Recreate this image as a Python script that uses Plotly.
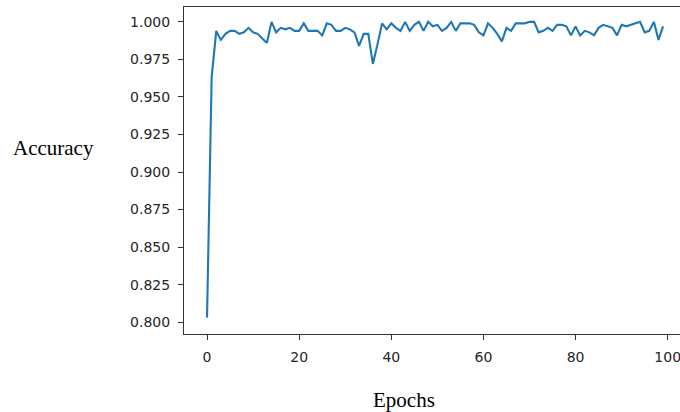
import plotly.graph_objects as go

# Training accuracy per epoch
epochs = list(range(100))
accuracy = [
    0.803, 0.963, 0.994, 0.988, 0.992, 0.994, 0.994, 0.992, 0.993, 0.996,
    0.993, 0.992, 0.989, 0.986, 1.000, 0.993, 0.996, 0.995, 0.996, 0.994,
    0.994, 0.999, 0.994, 0.994, 0.994, 0.991, 0.999, 0.998, 0.994, 0.994,
    0.996, 0.995, 0.993, 0.984, 0.992, 0.992, 0.972, 0.985, 0.999, 0.995,
    0.999, 0.996, 0.994, 1.000, 0.994, 0.998, 1.000, 0.994, 1.000, 0.997,
    0.998, 0.994, 0.996, 1.000, 0.994, 0.999, 0.999, 0.999, 0.998, 0.993,
    0.991, 0.999, 0.996, 0.992, 0.987, 0.996, 0.994, 0.999, 0.999, 0.999,
    1.000, 1.000, 0.993, 0.994, 0.996, 0.994, 0.998, 0.998, 0.997, 0.991,
    0.997, 0.991, 0.994, 0.993, 0.991, 0.996, 0.998, 0.997, 0.996, 0.991,
    0.998, 0.997, 0.998, 0.999, 1.000, 0.993, 0.994, 1.000, 0.988, 0.997,
]

y_ticks = [0.800, 0.825, 0.850, 0.875, 0.900, 0.925, 0.950, 0.975, 1.000]
x_ticks = [0, 20, 40, 60, 80, 100]

W, H = 680, 412
L, R, T, B = 184, 0, 7, 78
pw, ph = W - L - R, H - T - B


def px_to_paper(x, y):
    return (x - L) / pw, 1 - (y - T) / ph


fig = go.Figure()
fig.add_trace(go.Scatter(
    x=epochs, y=accuracy, mode="lines",
    line=dict(color="#1f77b4", width=2.1),
    hoverinfo="skip",
))

tick_font = dict(family="DejaVu Sans", size=14, color="#262626")
axis_common = dict(
    showgrid=False, zeroline=False, showline=True, linecolor="#333333",
    linewidth=1, ticks="outside", ticklen=5, tickwidth=1, tickcolor="#333333",
    tickfont=tick_font, ticklabeloverflow="allow",
)

fig.update_xaxes(range=[-5.0, 102.67], tickvals=x_ticks, mirror=True,
                 ticklabelstandoff=5, **axis_common)
fig.update_yaxes(range=[0.7921, 1.0099], tickvals=y_ticks, tickformat=".3f",
                 ticklabelstandoff=5, **axis_common)

label_font = dict(family="Liberation Serif", size=21, color="#000000")
ax, ay = px_to_paper(53.5, 147.5)
ex, ey = px_to_paper(404, 400)
fig.add_annotation(text="Accuracy", x=ax, y=ay, xref="paper", yref="paper",
                   xanchor="center", yanchor="middle", showarrow=False,
                   font=label_font)
fig.add_annotation(text="Epochs", x=ex, y=ey, xref="paper", yref="paper",
                   xanchor="center", yanchor="middle", showarrow=False,
                   font=label_font)

fig.update_layout(
    width=W, height=H,
    margin=dict(l=L, r=R, t=T, b=B, pad=0),
    paper_bgcolor="white", plot_bgcolor="white",
    showlegend=False,
)

fig.write_html("out.html")
